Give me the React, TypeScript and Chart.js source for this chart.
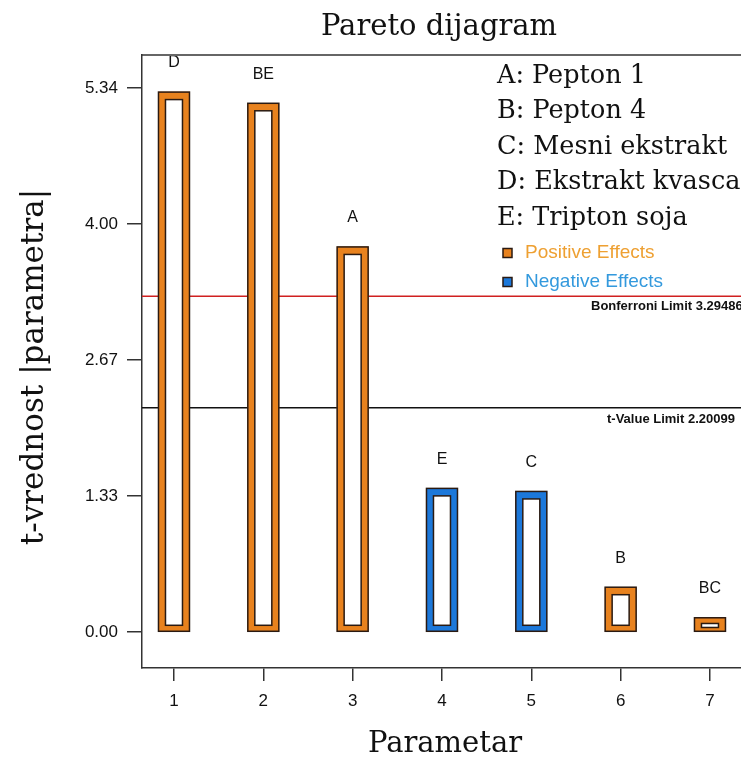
import { useEffect, useRef } from 'react';
import { Chart, registerables } from 'chart.js';

Chart.register(...registerables);

const positions = [1, 2, 3, 4, 5, 6, 7];
const tValues = [5.3, 5.19, 3.78, 1.41, 1.38, 0.44, 0.14];
const effectNames = ['D', 'BE', 'A', 'E', 'C', 'B', 'BC'];
const effectSigns = ['+', '+', '+', '-', '-', '+', '+'];
const yTickValues = [0, 1.335, 2.67, 4.005, 5.34];
const yTickLabels = ['0.00', '1.33', '2.67', '4.00', '5.34'];
const xTickValues = [1, 2, 3, 4, 5, 6, 7];
const factorLegend = ['A: Pepton 1', 'B: Pepton 4', 'C: Mesni ekstrakt', 'D: Ekstrakt kvasca', 'E: Tripton soja'];
const effectLegend = ['Positive Effects', 'Negative Effects'];
const bonferroniLimit = 3.29486;
const tValueLimit = 2.20099;
const limitLabels = ['Bonferroni Limit 3.29486', 't-Value Limit 2.20099'];
const chartTitle = 'Pareto dijagram';
const xTitle = 'Parametar';
const yTitle = 't-vrednost |parametra|';

const ORANGE = '#E8821E';
const BLUE = '#1C78DA';
const OUTLINE = '#2a1a12';
const AXIS = '#333333';
const SERIF = '"DejaVu Serif", serif';
const SANS = '"Liberation Sans", Arial, sans-serif';

const decorPlugin = {
  id: 'decor',
  beforeDatasetsDraw(chart: any) {
    const { ctx, chartArea, scales } = chart;
    const y = scales.y;
    ctx.save();
    const yb = y.getPixelForValue(bonferroniLimit);
    const yt = y.getPixelForValue(tValueLimit);
    ctx.lineWidth = 1.5;
    ctx.strokeStyle = '#d02020';
    ctx.beginPath();
    ctx.moveTo(chartArea.left, yb);
    ctx.lineTo(chartArea.right, yb);
    ctx.stroke();
    ctx.strokeStyle = '#111111';
    ctx.beginPath();
    ctx.moveTo(chartArea.left, yt);
    ctx.lineTo(chartArea.right, yt);
    ctx.stroke();
    ctx.fillStyle = '#111';
    ctx.font = `bold 13px ${SANS}`;
    ctx.textAlign = 'left';
    ctx.textBaseline = 'middle';
    ctx.fillText(limitLabels[0], 591, yb + 10);
    ctx.fillText(limitLabels[1], 607, yt + 12);
    ctx.restore();
  },
  afterDatasetsDraw(chart: any) {
    const { ctx, chartArea } = chart;
    const meta = chart.getDatasetMeta(0);
    ctx.save();
    meta.data.forEach((el: any) => {
      const p = el.getProps(['x', 'y', 'base', 'width'], true);
      const left = p.x - p.width / 2;
      const right = p.x + p.width / 2;
      const top = Math.min(p.y, p.base);
      const bottom = Math.max(p.y, p.base);
      const h = bottom - top;
      const insetX = 7;
      const insetTop = Math.min(7.5, (h - 4) * 0.6);
      const insetBottom = Math.min(6, (h - 4) * 0.4);
      ctx.fillStyle = '#ffffff';
      ctx.strokeStyle = OUTLINE;
      ctx.lineWidth = 1.5;
      const ix = left + insetX;
      const iy = top + insetTop;
      const iw = right - left - 2 * insetX;
      const ih = h - insetTop - insetBottom;
      ctx.fillRect(ix, iy, iw, ih);
      ctx.strokeRect(ix, iy, iw, ih);
      ctx.strokeRect(left, top, right - left, h);
    });
    ctx.beginPath();
    ctx.rect(chartArea.left, chartArea.top + 1, chartArea.right - chartArea.left, chartArea.bottom - chartArea.top);
    ctx.clip();
    ctx.fillStyle = '#111';
    ctx.font = `16px ${SANS}`;
    ctx.textAlign = 'center';
    ctx.textBaseline = 'middle';
    meta.data.forEach((el: any, i: number) => {
      const p = el.getProps(['x', 'y'], true);
      ctx.fillText(effectNames[i], p.x, p.y - 29);
    });
    ctx.restore();
  },
  afterDraw(chart: any) {
    const { ctx, chartArea } = chart;
    ctx.save();
    ctx.strokeStyle = AXIS;
    ctx.lineWidth = 1.5;
    ctx.beginPath();
    ctx.moveTo(chartArea.left, chartArea.top);
    ctx.lineTo(chartArea.right, chartArea.top);
    ctx.stroke();
    ctx.fillStyle = '#111';
    ctx.textAlign = 'center';
    ctx.textBaseline = 'middle';
    ctx.font = `29px ${SERIF}`;
    ctx.fillText(chartTitle, 439, 27);
    ctx.font = `29px ${SERIF}`;
    ctx.fillText(xTitle, 445, 744);
    ctx.save();
    ctx.translate(35, 367);
    ctx.rotate(-Math.PI / 2);
    ctx.font = `31px ${SERIF}`;
    ctx.fillText(yTitle, 0, 0);
    ctx.restore();
    ctx.textAlign = 'left';
    ctx.font = `25.5px ${SERIF}`;
    factorLegend.forEach((t, i) => {
      ctx.fillText(t, 497, 76 + i * 35.5);
    });
    ctx.font = `19px ${SANS}`;
    const cols = [ORANGE, BLUE];
    const textCols = ['#EEA032', '#3399DD'];
    effectLegend.forEach((t, i) => {
      const cy = 253 + i * 29;
      ctx.fillStyle = cols[i];
      ctx.fillRect(503, cy - 4.5, 9, 9);
      ctx.strokeStyle = OUTLINE;
      ctx.lineWidth = 1.5;
      ctx.strokeRect(503, cy - 4.5, 9, 9);
      ctx.fillStyle = textCols[i];
      ctx.fillText(t, 525, cy);
    });
    ctx.restore();
  },
};

export default function App() {
  const ref = useRef<HTMLCanvasElement>(null);
  useEffect(() => {
    if (!ref.current) return;
    const chart = new Chart(ref.current, {
      type: 'bar',
      data: {
        datasets: [
          {
            data: positions.map((x, i) => ({ x, y: tValues[i] })),
            backgroundColor: effectSigns.map((s) => (s === '+' ? ORANGE : BLUE)),
            borderWidth: 0,
            barThickness: 31,
          },
        ],
      },
      options: {
        animation: false,
        responsive: false,
        layout: { padding: { top: 55, left: 0, right: 0, bottom: 0 } },
        plugins: { legend: { display: false }, tooltip: { enabled: false } },
        scales: {
          x: {
            type: 'linear',
            offset: false,
            min: 0.642,
            max: 7.56,
            afterBuildTicks: (s: any) => {
              s.ticks = xTickValues.map((v) => ({ value: v }));
            },
            afterFit: (s: any) => {
              s.height = 91;
            },
            grid: {
              display: true,
              offset: false,
              drawOnChartArea: false,
              drawTicks: true,
              tickLength: 13,
              color: AXIS,
              lineWidth: 1.5,
            },
            border: { display: true, color: AXIS, width: 1.5 },
            ticks: {
              padding: 10,
              color: '#111',
              font: { family: SANS, size: 17 },
              maxRotation: 0,
              callback: (v: any) => String(v),
            },
          },
          y: {
            type: 'linear',
            min: -0.353,
            max: 5.664,
            afterBuildTicks: (s: any) => {
              s.ticks = yTickValues.map((v) => ({ value: v }));
            },
            afterFit: (s: any) => {
              s.width = 142;
            },
            grid: {
              display: true,
              drawOnChartArea: false,
              drawTicks: true,
              tickLength: 15,
              color: AXIS,
              lineWidth: 1.5,
            },
            border: { display: true, color: AXIS, width: 1.5 },
            ticks: {
              padding: 9,
              color: '#111',
              font: { family: SANS, size: 17 },
              callback: (v: any, i: number) => yTickLabels[i],
            },
          },
        },
      },
      plugins: [decorPlugin],
    } as any);
    return () => chart.destroy();
  }, []);
  return (
    <div style={{ position: 'absolute', left: 0, top: 0, width: 741, height: 759, overflow: 'hidden', background: '#fff' }}>
      <canvas ref={ref} width={760} height={759} style={{ display: 'block' }} />
    </div>
  );
}
